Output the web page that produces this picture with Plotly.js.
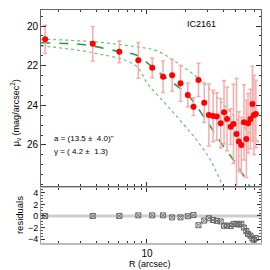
<!DOCTYPE html>
<html><head><meta charset="utf-8">
<script src="https://cdn.plot.ly/plotly-3.0.1.min.js"></script>
<style>html,body{margin:0;padding:0;background:#fff}#c{width:270px;height:270px}</style>
</head><body><div id="c"></div>
<script>
// Surface brightness profile data
const R = [1.57, 3.73, 6.05, 8.54, 11.0, 13.4, 15.8, 18.4, 21.0, 23.3, 25.5, 28.3, 30.8, 33.3, 35.6, 38.2, 40.6, 42.9, 45.8, 48.2, 50.9, 53.1, 55.6, 58.3, 60.9, 62.8, 65.6, 68.0, 69.9, 72.4];
const mu = [20.67, 20.89, 21.30, 21.73, 22.11, 22.56, 22.49, 22.89, 23.48, 24.07, 22.72, 23.87, 24.49, 24.54, 24.57, 24.91, 24.35, 24.69, 25.08, 24.94, 25.45, 25.83, 26.0, 24.86, 25.70, 24.91, 24.69, 23.93, 24.49, 24.44];
const muErr = [0.71, 0.87, 0.55, 0.9, 0.5, 0.8, 0.8, 0.9, 0.6, 0.45, 0.84, 1.0, 1.57, 1.3, 1.2, 1.25, 1.6, 1.6, 0.9, 2.0, 2.8, 1.5, 1.4, 1.9, 1.95, 1.5, 1.5, 1.9, 2.0, 1.7];
const resid = [0, 0, 0, 0.1, 0.1, 0.1, -0.25, -0.25, -0.05, 0.15, -1.6, -0.8, -0.4, -0.7, -0.85, -0.95, -1.7, -1.65, -1.75, -1.4, -1.35, -1.5, -1.35, -2.0, -2.6, -3.1, -3.4, -3.9, -4.1, -3.8];
// Model curves
const fitR = [1.456, 2.93, 3.75, 6.13, 8.2, 11.2, 13.5, 21.0, 28.6, 38.7, 52.5, 64.7];
const fitMu = [20.84, 20.92, 21.01, 21.30, 21.46, 22.10, 22.52, 23.48, 24.65, 25.92, 27.10, 28.10];
const upR = [1.456, 3.75, 8.04, 11.98, 18.2, 26.2, 37.5, 53.9, 80];
const upMu = [20.66, 20.79, 21.04, 21.25, 21.95, 22.7, 23.75, 24.85, 26.0];
const loR = [1.456, 3.75, 8.04, 10.2, 13.9, 18.2, 23.9, 31.3, 39.8];
const loMu = [21.0, 21.35, 21.97, 22.95, 23.9, 24.75, 25.65, 26.7, 28.1];
const xTickVals = [10];
const xTickText = ['10'];
const xMinorVals = [2, 3, 4, 5, 6, 7, 8, 9, 20, 30, 40, 50, 60, 70];
const yTickVals = [20, 22, 24, 26];
const rTickVals = [4, 2, 0, -2, -4];
const rTickText = ['4', '2', '0', '\u22122', '\u22124'];

const FONT = 'Liberation Sans, Arial, sans-serif';
const traces = [
  {x: upR, y: upMu, xaxis: 'x2', yaxis: 'y', mode: 'lines', line: {color: '#6cc476', width: 1.2, dash: 'dot', shape: 'spline'}, hoverinfo: 'skip'},
  {x: loR, y: loMu, xaxis: 'x2', yaxis: 'y', mode: 'lines', line: {color: '#6cc476', width: 1.2, dash: 'dot', shape: 'spline'}, hoverinfo: 'skip'},
  {x: fitR, y: fitMu, xaxis: 'x2', yaxis: 'y', mode: 'lines', line: {color: '#2f9a45', width: 1.6, dash: 'dash', shape: 'spline'}, hoverinfo: 'skip'},
  {x: R, y: mu, xaxis: 'x2', yaxis: 'y', mode: 'markers',
   marker: {color: '#ff0000', size: 6},
   error_y: {type: 'data', array: muErr, visible: true, color: '#f7abab', thickness: 1.5, width: 2}},
  {x: R, y: resid, xaxis: 'x', yaxis: 'y2', mode: 'markers',
   marker: {symbol: 'square-x-open', color: '#666', size: 5, line: {width: 1}}}
];

const xr = [Math.log10(1.456), Math.log10(79.5)];
const axBase = {ticks: 'inside', tickcolor: '#333', showgrid: false, zeroline: false, mirror: 'ticks', showline: true, tickfont: {family: FONT, size: 10, color: '#000'}};
const layout = {
  width: 270, height: 270, margin: {l: 41, r: 9, t: 10, b: 27},
  paper_bgcolor: '#fff', plot_bgcolor: '#fff', showlegend: false,
  xaxis: Object.assign({}, axBase, {type: 'log', range: xr, anchor: 'y2', domain: [0, 1],
    tickmode: 'array', tickvals: xTickVals, ticktext: xTickText, ticklen: 4, linecolor: '#bbb', linewidth: 1.5,
    minor: {tickmode: 'array', tickvals: xMinorVals, ticklen: 2, ticks: 'inside', tickcolor: '#333'}}),
  xaxis2: Object.assign({}, axBase, {type: 'log', range: xr, anchor: 'y', matches: 'x', domain: [0, 1],
    tickmode: 'array', tickvals: xTickVals, ticklen: 4, showticklabels: false, linecolor: '#666', linewidth: 1,
    minor: {tickmode: 'array', tickvals: xMinorVals, ticklen: 2, ticks: 'inside', tickcolor: '#333'}}),
  yaxis: Object.assign({}, axBase, {domain: [0.245, 1], range: [28.07, 19.19], anchor: 'x2',
    tickmode: 'array', tickvals: yTickVals, ticklen: 5, linecolor: '#666', linewidth: 1,
    minor: {dtick: 0.5, ticklen: 2, ticks: 'inside', tickcolor: '#333'}}),
  yaxis2: Object.assign({}, axBase, {domain: [0, 0.238], range: [-4.67, 4.9], anchor: 'x',
    tickmode: 'array', tickvals: rTickVals, ticktext: rTickText, ticklen: 4, linecolor: '#999', linewidth: 1,
    tickfont: {family: FONT, size: 9, color: '#000'},
    minor: {dtick: 0.5, ticklen: 2, ticks: 'inside', tickcolor: '#555'}}),
  shapes: [
    {type: 'line', xref: 'x domain', yref: 'y2', x0: 0, x1: 1, y0: 0, y1: 0, line: {color: '#cfcfcf', width: 3}, layer: 'below'}
  ],
  annotations: [
    {text: 'IC2161', xref: 'paper', yref: 'paper', x: 0.73, y: 0.94, xanchor: 'center', yanchor: 'middle', showarrow: false, font: {family: FONT, size: 9, color: '#000'}},
    {text: 'a = (13.5 \u00b1  4.0)"', xref: 'paper', yref: 'paper', x: 0.052, y: 0.449, xanchor: 'left', yanchor: 'middle', showarrow: false, font: {family: FONT, size: 8, color: '#000'}},
    {text: '\u03b3 = ( 4.2 \u00b1  1.3)', xref: 'paper', yref: 'paper', x: 0.052, y: 0.392, xanchor: 'left', yanchor: 'middle', showarrow: false, font: {family: FONT, size: 8, color: '#000'}},
    {text: '\u03bc<sub>v</sub> (mag/arcsec<sup>2</sup>)', xref: 'paper', yref: 'paper', x: -0.115, y: 0.56, xanchor: 'center', yanchor: 'middle', textangle: -90, showarrow: false, font: {family: FONT, size: 9, color: '#000'}},
    {text: 'residuals', xref: 'paper', yref: 'paper', x: -0.1, y: 0.12, xanchor: 'center', yanchor: 'middle', textangle: -90, showarrow: false, font: {family: FONT, size: 9.5, color: '#000'}},
    {text: 'R (arcsec)', xref: 'paper', yref: 'paper', x: 0.495, y: -0.09, xanchor: 'center', yanchor: 'middle', showarrow: false, font: {family: FONT, size: 9, color: '#000'}}
  ]
};
Plotly.newPlot('c', traces, layout, {staticPlot: true, displayModeBar: false});
</script></body></html>
